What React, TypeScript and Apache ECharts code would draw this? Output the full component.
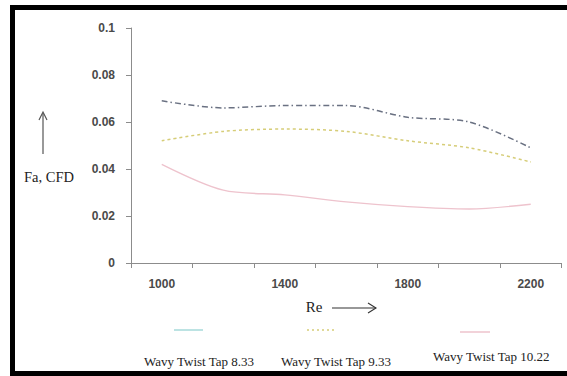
import React, { useEffect, useRef } from "react";
import * as echarts from "echarts";

const categories = ["1000", "1200", "1400", "1600", "1800", "2000", "2200"];
const seriesNames = ["Wavy Twist Tap 8.33", "Wavy Twist Tap 9.33", "Wavy Twist Tap 10.22"];
const tap833 = [0.069, 0.066, 0.067, 0.067, 0.062, 0.060, 0.049];
const tap933 = [0.052, 0.056, 0.057, 0.056, 0.052, 0.049, 0.043];
const tap1022 = [0.042, 0.031, 0.029, 0.026, 0.024, 0.023, 0.025];

export default function App() {
  const ref = useRef<HTMLDivElement>(null);
  useEffect(() => {
    if (!ref.current) return;
    const chart = echarts.init(ref.current, null, { renderer: "svg" });
    const serif = "'Liberation Serif', 'Times New Roman', serif";
    const sans = "'Liberation Sans', Arial, sans-serif";
    const legendText = { fontFamily: serif, fontSize: 13, color: "#222" };
    chart.setOption({
      animation: false,
      backgroundColor: "#fff",
      grid: { left: 131, right: 5.5, top: 28, bottom: 113, containLabel: false },
      xAxis: {
        type: "category",
        data: categories,
        boundaryGap: true,
        axisLine: { lineStyle: { color: "#8c8c8c", width: 1 } },
        axisTick: { show: true, interval: 0, length: 5, lineStyle: { color: "#8c8c8c" } },
        axisLabel: {
          interval: 1,
          margin: 15,
          fontFamily: sans,
          fontSize: 12,
          fontWeight: "bold",
          color: "#4a4a4a",
        },
        splitLine: { show: false },
      },
      yAxis: {
        type: "value",
        min: 0,
        max: 0.1,
        interval: 0.02,
        axisLine: { show: true, lineStyle: { color: "#8c8c8c", width: 1 } },
        axisTick: { show: true, length: 5, lineStyle: { color: "#8c8c8c" } },
        axisLabel: {
          margin: 16,
          fontFamily: sans,
          fontSize: 12,
          fontWeight: "bold",
          color: "#4a4a4a",
        },
        splitLine: { show: false },
      },
      legend: [
        {
          data: [{ name: seriesNames[0], icon: "none" }],
          left: 134,
          top: 350,
          itemWidth: 0,
          itemHeight: 0,
          textStyle: legendText,
          selectedMode: false,
        },
        {
          data: [{ name: seriesNames[1], icon: "none" }],
          left: 271,
          top: 350,
          itemWidth: 0,
          itemHeight: 0,
          textStyle: legendText,
          selectedMode: false,
        },
        {
          data: [{ name: seriesNames[2], icon: "none" }],
          left: 423,
          top: 345,
          itemWidth: 0,
          itemHeight: 0,
          textStyle: legendText,
          selectedMode: false,
        },
      ],
      series: [
        {
          name: seriesNames[0],
          type: "line",
          data: tap833,
          smooth: 0.3,
          symbol: "none",
          lineStyle: { color: "#6a7182", width: 1.5, type: [6, 3, 1.5, 3] },
          itemStyle: { color: "#a6dada" },
        },
        {
          name: seriesNames[1],
          type: "line",
          data: tap933,
          smooth: 0.3,
          symbol: "none",
          lineStyle: { color: "#d6cd78", width: 1.5, type: [3, 3] },
          itemStyle: { color: "#d6cd78" },
        },
        {
          name: seriesNames[2],
          type: "line",
          data: tap1022,
          smooth: 0.3,
          symbol: "none",
          lineStyle: { color: "#eec3cd", width: 1.4 },
          itemStyle: { color: "#eec3cd" },
        },
      ],
      graphic: [
        { type: "rect", shape: { x: 10, y: 5, width: 557, height: 5 }, style: { fill: "#000" } },
        { type: "rect", shape: { x: 10, y: 5, width: 5, height: 371 }, style: { fill: "#000" } },
        { type: "rect", shape: { x: 10, y: 371, width: 557, height: 5 }, style: { fill: "#000" } },
        // y-axis title and arrow
        { type: "line", shape: { x1: 43, y1: 154, x2: 43, y2: 113 }, style: { stroke: "#555", lineWidth: 1.2 } },
        { type: "polyline", shape: { points: [[39, 120], [43, 112], [47, 120]] }, style: { stroke: "#555", lineWidth: 1.2, fill: null } },
        {
          type: "text",
          x: 49,
          y: 177,
          style: { text: "Fa, CFD", font: `14.5px ${serif}`, fill: "#222", align: "center", verticalAlign: "middle" },
        },
        // x-axis title and arrow
        {
          type: "text",
          x: 314,
          y: 307,
          style: { text: "Re", font: `15px ${serif}`, fill: "#222", align: "center", verticalAlign: "middle" },
        },
        { type: "line", shape: { x1: 332, y1: 308, x2: 376, y2: 308 }, style: { stroke: "#333", lineWidth: 1.1 } },
        { type: "polyline", shape: { points: [[368, 303], [376, 308], [368, 313]] }, style: { stroke: "#333", lineWidth: 1.1, fill: null } },
        // legend line samples
        { type: "line", shape: { x1: 174, y1: 330, x2: 203, y2: 330 }, style: { stroke: "#a6dada", lineWidth: 1.5 } },
        { type: "line", shape: { x1: 307, y1: 330, x2: 336, y2: 330 }, style: { stroke: "#d6cd78", lineWidth: 1.5, lineDash: [2, 3] } },
        { type: "line", shape: { x1: 460, y1: 332, x2: 490, y2: 332 }, style: { stroke: "#eec3cd", lineWidth: 1.5 } },
      ],
    });
    return () => chart.dispose();
  }, []);
  return (
    <div
      ref={ref}
      style={{ position: "fixed", left: 0, top: 0, width: 567, height: 376, background: "#fff" }}
    />
  );
}
